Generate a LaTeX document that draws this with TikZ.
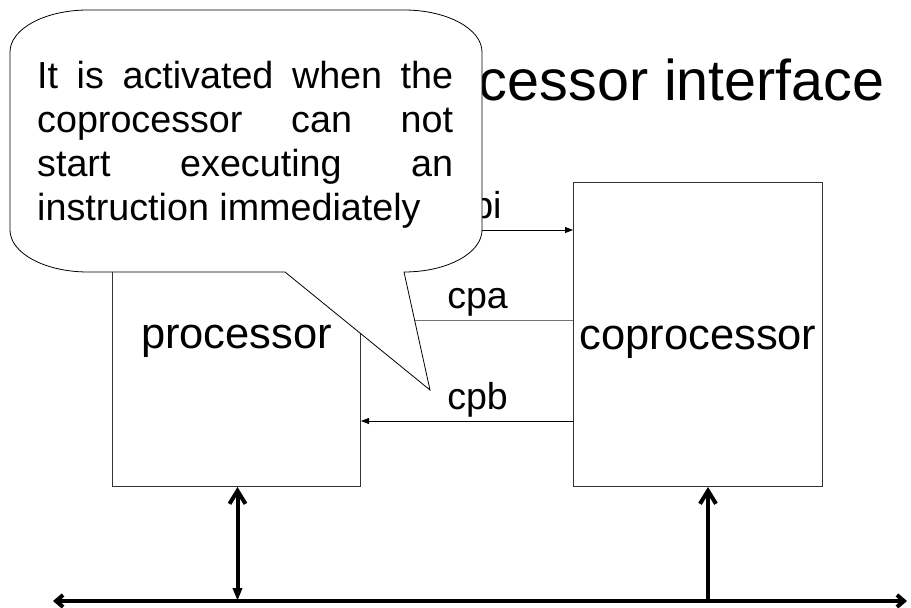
\documentclass[tikz,border=0pt]{standalone}
\usepackage{fontspec}
\setmainfont{Liberation Sans}
\usetikzlibrary{arrows.meta}

\tikzset{
  bustip/.tip={Straight Barb[length=13pt,width=16pt]},
  endtip/.tip={Straight Barb[length=7pt,width=12pt]},
  droptip/.tip={Triangle[length=13pt,width=9pt]},
}

\begin{document}
\begin{tikzpicture}[x=1pt,y=-1pt,
  unit/.style={draw=black!80, line width=1pt, inner sep=0, anchor=north west,
    text height=29pt, text depth=0pt, font=\fontsize{43.5}{52}\selectfont},
  sig/.style={line width=0.8pt, -{Triangle[length=8pt,width=6pt]}},
  siglabel/.style={font=\fontsize{37.5}{44}\selectfont, inner sep=0, anchor=base, yshift=12pt},
  busline/.style={line width=4pt},
  bubble/.style={draw=black, line width=0.8pt, fill=white, line join=miter},
]
\useasboundingbox (0,0) rectangle (911,608);

% title
\node[anchor=base east, inner sep=0, font=\fontsize{57.5}{68}\selectfont] (title) at (885,100)
  {Coprocessor interface};

% the two units
\node[unit, minimum width=248pt, minimum height=305pt] (proc) at (112,181) {processor};
\node[unit, minimum width=249pt, minimum height=304pt] (cop) at (573,182) {coprocessor};

% handshake signals
\coordinate (cpiA) at ([yshift=-49pt]proc.north east);
\coordinate (cpaA) at ([yshift=-138pt]cop.north west);
\coordinate (cpbA) at ([yshift=-239pt]cop.north west);
\draw[sig] (cpiA) -- (cpiA -| cop.west) node[siglabel, pos=0.55] (cpil) {cpi};
\draw[sig, draw=black!55] (cpaA) -- (cpaA -| proc.east) node[siglabel, pos=0.45, text=black] (cpal) {cpa};
\draw[sig] (cpbA) -- (cpbA -| proc.east) node[siglabel, pos=0.45] (cpbl) {cpb};

% system bus
\coordinate (busL) at (53,601);
\coordinate (busR) at (907,601);
\coordinate (procPort) at ([xshift=1pt]proc.south);
\coordinate (copPort) at ([xshift=10pt]cop.south);
\draw[busline, {endtip}-{endtip}] (busL) -- (busR);
\draw[busline, {bustip}-{droptip}] (procPort) -- (procPort |- busL);
\draw[busline, -{bustip}] (copPort |- busL) -- (copPort);

% callout bubble
\draw[bubble] (88,10) -- (404,10)
  .. controls (447,10) and (482,28.8) .. (482,52)
  -- (482,230)
  .. controls (482,253.2) and (447,272) .. (404,272)
  coordinate (tailR)
  -- (430,390) coordinate (tip)
  -- (285,272) coordinate (tailL)
  -- (88,272)
  .. controls (45,272) and (10,253.2) .. (10,230)
  -- (10,52)
  .. controls (10,28.8) and (45,10) .. (88,10) -- cycle;
\node[anchor=base west, inner sep=0, font=\fontsize{37.7}{44}\selectfont] (note) at (37,88)
  {\vtop{%
    \hbox to 416pt{It\hfill is\hfill activated\hfill when\hfill the}%
    \hbox to 416pt{coprocessor\hfill can\hfill not}%
    \hbox to 416pt{start\hfill executing\hfill an}%
    \hbox{instruction immediately}}};
\end{tikzpicture}
\end{document}
